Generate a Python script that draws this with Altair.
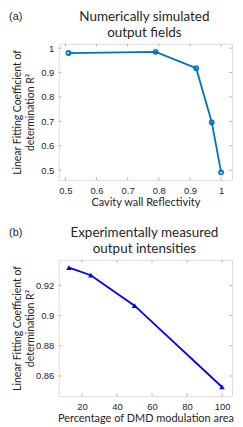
import altair as alt
import pandas as pd

# Panel (a) data
refl = [0.51, 0.79, 0.92, 0.97, 1.0]
r2_sim = [0.980, 0.985, 0.918, 0.696, 0.491]
a_xticks = [0.5, 0.6, 0.7, 0.8, 0.9, 1.0]
a_yticks = [0.5, 0.6, 0.7, 0.8, 0.9, 1.0]

# Panel (b) data
dmd_area = [12.5, 25, 50, 100]
r2_exp = [0.9318, 0.9268, 0.9066, 0.8527]
b_xticks = [20, 40, 60, 80, 100]
b_yticks = [0.86, 0.88, 0.90, 0.92]

W, H = 174, 137
TICK = 3
FRAME = "#b5b5b5"
TXT = "#262626"


def panel(xs, ys, xticks, yticks, xdom, ydom, xfmt, xtitle, title_lines, tag, color, shape, filled, size):
    df = pd.DataFrame({"x": xs, "y": ys})
    xsc = alt.Scale(domain=xdom, nice=False, zero=False)
    ysc = alt.Scale(domain=ydom, nice=False, zero=False)
    xax = alt.Axis(values=xticks, format=xfmt, ticks=False, domain=False, grid=False,
                   labelOverlap=False, labelFont="Liberation Sans", labelFontSize=9.5,
                   labelColor=TXT, labelPadding=5, title=xtitle, titleFont="Lato",
                   titleFontSize=11, titleFontWeight="normal", titleColor=TXT, titlePadding=2)
    yax = alt.Axis(values=yticks, format="~g", ticks=False, domain=False, grid=False,
                   labelOverlap=False, labelFont="Liberation Sans", labelFontSize=9.5,
                   labelColor=TXT, labelPadding=5,
                   title=["Linear Fitting Coefficient of", "determination R²"],
                   titleFont="Lato", titleFontSize=10.5, titleFontWeight="normal",
                   titleColor=TXT, titleX=-41, titleY=H / 2, titleAngle=270,
                   titleAlign="center", titleBaseline="middle", titleLineHeight=13)
    base = alt.Chart(df)
    line = base.mark_line(color=color, strokeWidth=1.8, clip=False).encode(
        x=alt.X("x:Q", scale=xsc, axis=xax),
        y=alt.Y("y:Q", scale=ysc, axis=yax),
    )
    pts = base.mark_point(shape=shape, filled=filled, color=color, size=size,
                          strokeWidth=1.6, opacity=1).encode(
        x=alt.X("x:Q", scale=xsc, axis=xax), y=alt.Y("y:Q", scale=ysc, axis=yax))

    xt = pd.DataFrame({"x": xticks})
    yt = pd.DataFrame({"y": yticks})
    bot = alt.Chart(xt).mark_rule(color=FRAME, strokeWidth=1).encode(
        x=alt.X("x:Q", scale=xsc, axis=xax), y=alt.value(H), y2=alt.value(H - TICK))
    top = alt.Chart(xt).mark_rule(color=FRAME, strokeWidth=1).encode(
        x=alt.X("x:Q", scale=xsc, axis=xax), y=alt.value(0), y2=alt.value(TICK))
    lft = alt.Chart(yt).mark_rule(color=FRAME, strokeWidth=1).encode(
        y=alt.Y("y:Q", scale=ysc, axis=yax), x=alt.value(0), x2=alt.value(TICK))
    rgt = alt.Chart(yt).mark_rule(color=FRAME, strokeWidth=1).encode(
        y=alt.Y("y:Q", scale=ysc, axis=yax), x=alt.value(W), x2=alt.value(W - TICK))
    lab = alt.Chart(pd.DataFrame({"s": [tag]})).mark_text(
        font="Liberation Sans", fontSize=11, color=TXT, align="left", baseline="middle"
    ).encode(text="s:N", x=alt.value(-50), y=alt.value(-27))
    t1 = alt.Chart(pd.DataFrame({"s": [title_lines[0]]})).mark_text(
        font="Lato", fontSize=13.5, color=TXT, align="center", baseline="middle"
    ).encode(text="s:N", x=alt.value(W / 2 - 1), y=alt.value(-27))
    t2 = alt.Chart(pd.DataFrame({"s": [title_lines[1]]})).mark_text(
        font="Lato", fontSize=13.5, color=TXT, align="center", baseline="middle"
    ).encode(text="s:N", x=alt.value(W / 2 - 1), y=alt.value(-11))

    return alt.layer(line, pts, bot, top, lft, rgt, lab, t1, t2).properties(
        width=W, height=H)


pa = panel(refl, r2_sim, a_xticks, a_yticks, [0.479, 1.035], [0.459, 1.018], "~g",
           "Cavity wall Reflectivity", ["Numerically simulated", "output fields"],
           "(a)", "#0072BD", "circle", False, 18)
pb = panel(dmd_area, r2_exp, b_xticks, b_yticks, [6.7, 105.7], [0.8466, 0.937], "d",
           "Percentage of DMD modulation area", ["Experimentally measured", "output intensities"],
           "(b)", "#0000FF", "triangle-up", True, 30)

chart = alt.vconcat(pa, pb, spacing=17).properties(padding=0).configure_view(
    stroke=FRAME, strokeWidth=1
).configure(background="white")

chart.save("out.html", embed_options={"renderer": "svg", "actions": False})
